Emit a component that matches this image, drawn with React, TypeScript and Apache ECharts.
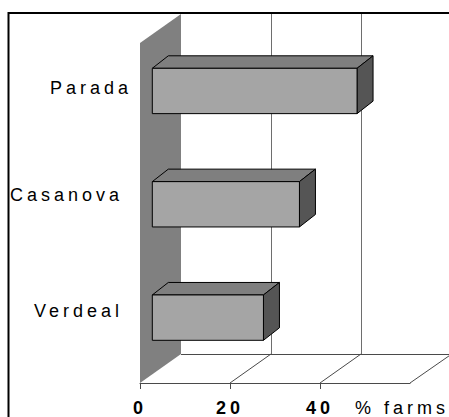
import React, { useEffect, useRef } from "react";
import * as echarts from "echarts";

// ---- data ----
const categories = ["Verdeal", "Casanova", "Parada"];
const values = [24.7, 32.7, 45.5];
const tickValues = [0, 20, 40];
const gridValues = [20, 40];
const axisMin = 0;
const axisMax = 60;
const axisStep = 20;
const unitLabel = "% farms";

// ---- styling constants ----
const labelLift = [15.5, 18, 12];
const labelInset = [9, 9, 0];
const DX = 41; // depth of the floor / side wall
const DY = -29;
const F1 = 0.3; // bar front face position within depth
const BX = 16; // bar depth
const BY = -12.5;
const FONT = "'Liberation Sans', Arial, sans-serif";

const crisp = (v: number) => Math.round(v) + 0.5;

function renderWalls(params: any, api: any) {
  const cs = params.coordSys;
  const top = cs.y;
  const bottom = cs.y + cs.height;
  const x = (v: number) => api.coord([v, 0])[0];
  const children: any[] = [];
  const x0 = x(axisMin);
  children.push({
    type: "polygon",
    shape: {
      points: [
        [x0, top],
        [x0, bottom],
        [x0 + DX, bottom + DY],
        [x0 + DX, top + DY],
      ],
    },
    style: { fill: "#808080" },
  });
  gridValues.forEach((v) => {
    const xx = crisp(x(v) + DX);
    children.push({
      type: "line",
      shape: { x1: xx, y1: top + DY, x2: xx, y2: bottom + DY },
      style: { stroke: "#6e6e6e", lineWidth: 1 },
    });
  });
  const yb = crisp(bottom + DY);
  children.push({
    type: "polyline",
    shape: {
      points: [
        [x0 + DX, yb],
        [x(axisMax) + DX, yb],
        [x(axisMax), bottom],
      ],
    },
    style: { stroke: "#4a4a4a", fill: null, lineWidth: 1 },
  });
  gridValues.forEach((v) => {
    children.push({
      type: "line",
      shape: { x1: x(v), y1: bottom, x2: x(v) + DX, y2: bottom + DY },
      style: { stroke: "#4a4a4a", lineWidth: 1 },
    });
  });
  tickValues.forEach((v) => {
    const xx = crisp(x(v));
    children.push({
      type: "line",
      shape: { x1: xx, y1: bottom, x2: xx, y2: bottom + 6 },
      style: { stroke: "#4a4a4a", lineWidth: 1 },
    });
  });
  return { type: "group", children };
}

function renderBars(params: any, api: any) {
  const v = api.value(0);
  const c = api.value(1);
  const p0 = api.coord([axisMin, c]);
  const p1 = api.coord([v, c]);
  const band = api.size([0, 1])[1];
  const h = band * 0.4;
  const x0 = p0[0] + F1 * DX;
  const x1 = p1[0] + F1 * DX;
  const yc = p0[1] + F1 * DY;
  const yt = yc - h / 2;
  const yb = yc + h / 2;
  const stroke = { stroke: "#000", lineWidth: 1 };
  return {
    type: "group",
    children: [
      {
        type: "polygon",
        shape: {
          points: [
            [x0, yt],
            [x1, yt],
            [x1 + BX, yt + BY],
            [x0 + BX, yt + BY],
          ],
        },
        style: { fill: "#7f7f7f", ...stroke },
      },
      {
        type: "polygon",
        shape: {
          points: [
            [x1, yt],
            [x1 + BX, yt + BY],
            [x1 + BX, yb + BY],
            [x1, yb],
          ],
        },
        style: { fill: "#555555", ...stroke },
      },
      {
        type: "rect",
        shape: { x: x0, y: yt, width: x1 - x0, height: h },
        style: { fill: "#a5a5a5", ...stroke },
      },
    ],
  };
}

export default function App() {
  const ref = useRef<HTMLDivElement>(null);
  useEffect(() => {
    if (!ref.current) return;
    const chart = echarts.init(ref.current, null, { renderer: "svg" });
    chart.setOption({
      animation: false,
      backgroundColor: "#ffffff",
      grid: { left: 140, top: 43, width: 270, height: 341 },
      xAxis: {
        type: "value",
        min: axisMin,
        max: axisMax,
        interval: axisStep,
        axisLine: { show: true, lineStyle: { color: "#4a4a4a", width: 1 } },
        axisTick: { show: false },
        splitLine: { show: false },
        axisLabel: {
          margin: 16,
          formatter: (v: number) => (v === axisMax ? `{u|${unitLabel}}` : `{b|${v}}`),
          rich: {
            b: { fontFamily: FONT, fontSize: 18, fontWeight: "bold", color: "#000" },
            u: {
              fontFamily: FONT,
              fontSize: 18,
              fontWeight: "normal",
              color: "#000",
              padding: [0, 16, 0, 0],
            },
          },
        },
      },
      yAxis: {
        type: "category",
        data: categories.map((c, i) => ({
          value: c,
          textStyle: {
            verticalAlign: "bottom",
            lineHeight: labelLift[i] * 2,
            padding: [0, labelInset[i], 0, 0],
          },
        })),
        axisLine: { show: false },
        axisTick: { show: false },
        splitLine: { show: false },
        axisLabel: {
          margin: 8,
          fontFamily: FONT,
          fontSize: 18,
          color: "#000",
          verticalAlign: "bottom",
        },
      },
      graphic: [
        {
          type: "rect",
          z: 100,
          shape: { x: 8.5, y: 13, width: 480, height: 450 },
          style: { fill: null, stroke: "#000", lineWidth: 2 },
        },
      ],
      series: [
        {
          type: "custom",
          renderItem: renderWalls,
          data: [[0, 0]],
          silent: true,
          clip: false,
        },
        {
          type: "custom",
          renderItem: renderBars,
          data: values.map((v, i) => [v, i]),
          silent: true,
          clip: false,
        },
      ],
    });
    return () => chart.dispose();
  }, []);
  return (
    <div
      className="chartbox"
      style={{ position: "fixed", left: 0, top: 0, width: 449, height: 417, background: "#fff" }}
    >
      <style>{`.chartbox svg text { letter-spacing: 4px; }`}</style>
      <div ref={ref} style={{ width: 449, height: 417 }} />
    </div>
  );
}
